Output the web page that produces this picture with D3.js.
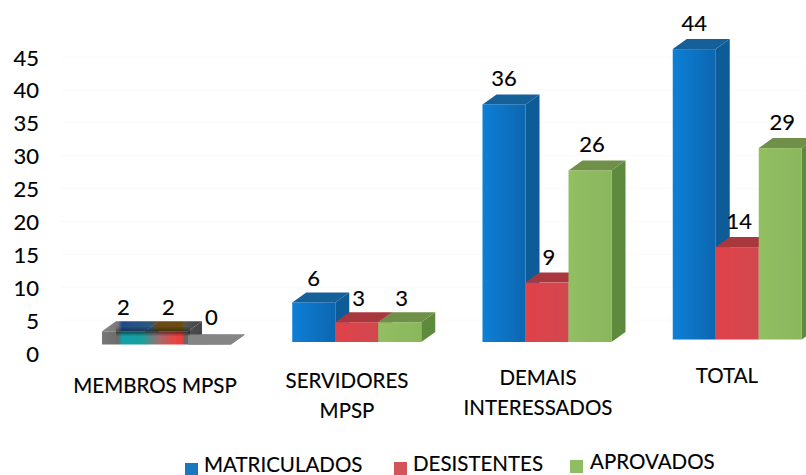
<!DOCTYPE html>
<html><head><meta charset="utf-8">
<script src="https://cdn.jsdelivr.net/npm/d3@7"></script>
<style>html,body{margin:0;background:#fff}svg{display:block}text{font-family:Lato,"Open Sans",sans-serif;fill:#000;stroke:#000;stroke-width:.15px}</style>
</head><body><svg id="c" width="806" height="475"></svg>
<script>
const categories = ["MEMBROS MPSP","SERVIDORES MPSP","DEMAIS INTERESSADOS","TOTAL"];
const seriesNames = ["MATRICULADOS","DESISTENTES","APROVADOS"];
const matriculados = [2,6,36,44];
const desistentes = [2,3,9,14];
const aprovados = [0,3,26,29];
const yTicks = [0,5,10,15,20,25,30,35,40,45];
const values = [matriculados,desistentes,aprovados];

const W=806,H=475, depthX=14, depthY=10;
const svg=d3.select("#c");
const defs=svg.append("defs");
defs.append("filter").attr("id","soft").append("feGaussianBlur").attr("stdDeviation",0.5);
const y=d3.scaleLinear().domain([0,45]).range([354,58]);
const x0=d3.scaleBand().domain(categories).range([102,863]);
const x1=d3.scaleBand().domain(seriesNames).range([0,129]);
const unit=d3.scaleLinear().domain([0,45]).range([0,297]);
const baseOf=i=>[344.5,342,342,339.5][i];

const pal={
 MATRICULADOS:{a:"#0b7fd6",b:"#0a66b0",top:"#16609a",side:"#0c5c98"},
 DESISTENTES:{a:"#e0424a",b:"#d2474f",top:"#a8393e",side:"#9c3338"},
 APROVADOS:{a:"#93bf63",b:"#8ab65c",top:"#6f9048",side:"#5d8a3c"}
};
seriesNames.forEach((s,k)=>{
 const g=defs.append("linearGradient").attr("id","f"+k);
 g.append("stop").attr("offset",0).attr("stop-color",pal[s].a);
 g.append("stop").attr("offset",1).attr("stop-color",pal[s].b);
});
// first group: washed-out, scan-damaged colouring
function grad(id,stops){const g=defs.append("linearGradient").attr("id",id).attr("gradientUnits","userSpaceOnUse").attr("x1",102).attr("x2",240).attr("y1",0).attr("y2",0);
 stops.forEach(([o,c])=>g.append("stop").attr("offset",(o-102)/138).attr("stop-color",c));}
grad("dmgFront",[[102,"#777"],[118,"#6c6c6c"],[122,"#12a0a8"],[142,"#1aa0a0"],[160,"#a86a6a"],[172,"#e04a4a"],[182,"#f03a3a"],[185,"#666"],[240,"#888"]]);
grad("dmgTop",[[102,"#888"],[118,"#777"],[122,"#234a8a"],[150,"#2a5a80"],[158,"#6b4a14"],[182,"#6b4f10"],[185,"#555"],[200,"#444"],[240,"#888"]]);
const bandG=defs.append("linearGradient").attr("id","band").attr("x1",0).attr("x2",0).attr("y1",0).attr("y2",1);
bandG.append("stop").attr("offset",0).attr("stop-color","#000").attr("stop-opacity",0);
bandG.append("stop").attr("offset",0.6).attr("stop-color","#000").attr("stop-opacity",0.45);
bandG.append("stop").attr("offset",1).attr("stop-color","#000").attr("stop-opacity",0);

// faint gridlines remaining in the scan
svg.append("g").selectAll("line").data(yTicks.slice(1)).join("line")
 .attr("x1",60).attr("x2",806).attr("y1",d=>y(d)-1).attr("y2",d=>y(d)-1).attr("stroke","#fafafa");

// y axis
const ax=svg.append("g").attr("transform","translate(39,0)").call(d3.axisLeft(y).tickValues(yTicks).tickSize(0).tickPadding(0));
ax.select(".domain").remove();
ax.selectAll("text").style("font-family","Lato,sans-serif").style("font-size","22px");

// bars
const pt=a=>a.map(q=>q.join(",")).join(" ");
categories.forEach((c,i)=>{
 const base=baseOf(i);
 const g=svg.append("g").attr("filter","url(#soft)");
 seriesNames.forEach((s,k)=>{
  const v=values[k][i], xl=x0(c)+x1(s), w=x1.bandwidth(), h=unit(v), t=base-h, p=pal[s];
  const dmg=i===0;
  g.append("polygon").attr("points",pt([[xl+w,t],[xl+w+depthX,t-depthY],[xl+w+depthX,base-depthY],[xl+w,base]])).attr("fill",dmg?"url(#dmgTop)":p.side);
  g.append("polygon").attr("points",pt([[xl,t],[xl+depthX,t-depthY],[xl+w+depthX,t-depthY],[xl+w,t]])).attr("fill",dmg?"url(#dmgTop)":p.top);
  g.append("rect").attr("x",xl).attr("y",t).attr("width",w).attr("height",h).attr("fill",dmg?"url(#dmgFront)":`url(#f${k})`);
 });
 if(i===0){ // gray zero slab and the dark band the scan left across the short bars
  const xl=x0(c)+x1(seriesNames[2]), w=x1.bandwidth(), t=base-unit(values[0][0]);
  g.append("polygon").attr("points",pt([[xl,base],[xl+w,base],[xl+w+depthX,base-depthY],[xl,base-depthY]])).attr("fill","#858585");
  g.append("rect").attr("x",x0(c)+depthX).attr("y",t-5).attr("width",x1.bandwidth()*2-depthX+2).attr("height",10).attr("fill","url(#band)");
 }
});
// data labels
categories.forEach((c,i)=>{
 seriesNames.forEach((s,k)=>{
  const v=values[k][i];
  const gap=(i===0&&k===2)?10:(i>=2?8:6);
  svg.append("text").attr("x",x0(c)+x1(s)+x1.bandwidth()/2+(k?2:0))
   .attr("y",baseOf(i)-unit(v)-depthY-gap)
   .attr("text-anchor","middle").style("font-size","22px").text(v);
 });
});
// category labels
const catLines=[["MEMBROS MPSP"],["SERVIDORES","MPSP"],["DEMAIS","INTERESSADOS"],["TOTAL"]];
const catCx=[155,347,538,727], catY=[393,388,385,383];
catLines.forEach((ls,i)=>ls.forEach((t,j)=>{
 svg.append("text").attr("x",catCx[i]).attr("y",catY[i]+j*30).attr("text-anchor","middle").style("font-size","20.5px").text(t);
}));
// legend
const legX=[185,394,570], legT=[204,413,590], legY=[472,471,469];
seriesNames.forEach((s,k)=>{
 svg.append("rect").attr("x",legX[k]).attr("y",legY[k]-9).attr("width",13).attr("height",13).attr("fill",[ "#1a76bd","#d2545a","#8fbd62"][k]);
 svg.append("text").attr("x",legT[k]).attr("y",legY[k]).style("font-size","20.5px").text(s);
});
</script></body></html>
